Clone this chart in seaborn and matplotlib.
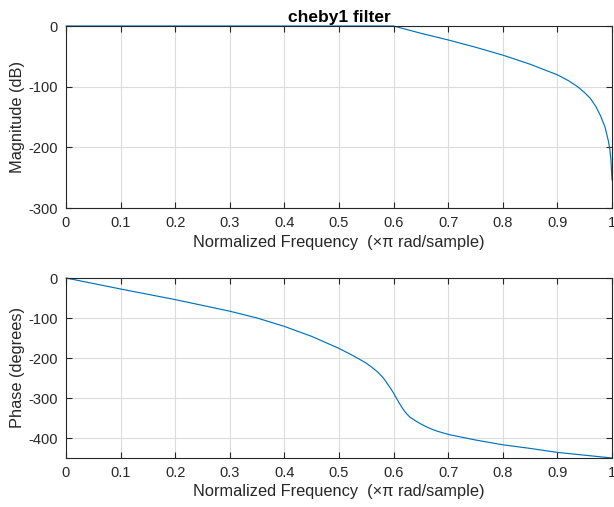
import numpy as np
import pandas as pd
import matplotlib
matplotlib.use("Agg")
import matplotlib.pyplot as plt
import seaborn as sns

# Magnitude response (dB)
mag_freq = [0.0, 0.1, 0.2, 0.3, 0.4, 0.5, 0.55, 0.6, 0.65, 0.7, 0.75, 0.8, 0.85,
            0.9, 0.92, 0.937, 0.95, 0.96, 0.97, 0.979, 0.987, 0.993, 0.996, 0.998, 1.0]
mag_db = [0.0, 0.0, 0.0, 0.0, 0.0, 0.0, 0.0, 0.0, -12, -23, -35, -48, -63,
          -80.5, -90, -100, -110, -119, -132, -148, -166, -188, -203, -220, -254]

# Phase response (degrees)
ph_freq = [0.0, 0.1, 0.2, 0.3, 0.35, 0.4, 0.45, 0.5, 0.52, 0.54, 0.55, 0.56, 0.57,
           0.575, 0.58, 0.585, 0.59, 0.595, 0.6, 0.605, 0.61, 0.615, 0.62, 0.625,
           0.63, 0.64, 0.65, 0.66, 0.67, 0.68, 0.7, 0.75, 0.8, 0.85, 0.9, 0.95, 1.0]
ph_deg = [0, -27.5, -54, -83, -100, -121, -146, -176, -190, -205, -213, -223, -234,
          -241, -248, -257, -267, -277, -288, -300, -312, -323, -333, -341,
          -348, -357, -365, -372, -378, -383, -391, -405, -417, -426, -436, -443, -450]

xticks = [0, 0.1, 0.2, 0.3, 0.4, 0.5, 0.6, 0.7, 0.8, 0.9, 1]
xticklabels = ["0", "0.1", "0.2", "0.3", "0.4", "0.5", "0.6", "0.7", "0.8", "0.9", "1"]
mag_yticks = [-300, -200, -100, 0]
ph_yticks = [-400, -300, -200, -100, 0]

title = "cheby1 filter"
xlabel = "Normalized Frequency  (\u00d7\u03c0 rad/sample)"

sns.set_theme(style="white")
plt.rcParams["font.family"] = ["Liberation Sans", "DejaVu Sans"]

W, H = 614, 507
fig = plt.figure(figsize=(W / 100, H / 100), dpi=100)

def px_axes(left, top, right, bottom):
    return fig.add_axes([left / W, 1 - bottom / H, (right - left) / W, (bottom - top) / H])

ax1 = px_axes(66, 26, 612, 208)
ax2 = px_axes(66, 278, 612, 458)

line_color = "#0072BD"
axis_color = "#262626"
fs = 10.5
lfs = 11.8

df_mag = pd.DataFrame({"f": mag_freq, "m": mag_db})
df_ph = pd.DataFrame({"f": ph_freq, "p": ph_deg})

sns.lineplot(data=df_mag, x="f", y="m", ax=ax1, color=line_color, linewidth=0.85,
             estimator=None, sort=True)
sns.lineplot(data=df_ph, x="f", y="p", ax=ax2, color=line_color, linewidth=0.85,
             estimator=None, sort=True)

for ax, yt, ylim, ylab in [(ax1, mag_yticks, (-300, 0), "Magnitude (dB)"),
                           (ax2, ph_yticks, (-450, 0), "Phase (degrees)")]:
    ax.set_xlim(0, 1)
    ax.set_ylim(*ylim)
    ax.set_xticks(xticks)
    ax.set_xticklabels(xticklabels)
    ax.set_yticks(yt)
    ax.set_yticklabels([str(v) for v in yt])
    ax.grid(True, color="#dcdcdc", linewidth=0.8)
    ax.set_axisbelow(True)
    for s in ax.spines.values():
        s.set_visible(True)
        s.set_color(axis_color)
        s.set_linewidth(0.8)
    ax.tick_params(direction="in", length=4, width=0.8, colors=axis_color,
                   labelsize=fs, top=True, right=True, bottom=True, left=True,
                   labelcolor=axis_color, pad=6)
    ax.set_xlabel(xlabel, fontsize=lfs, color=axis_color, labelpad=3)
    ax.set_ylabel(ylab, fontsize=lfs, color=axis_color, labelpad=2)
    for ln in ax.lines:
        ln.set_clip_on(False)

ax1.set_title(title, fontsize=12.5, fontweight="bold", color="black", pad=3)

fig.savefig("out.png", dpi=100, facecolor="white")
